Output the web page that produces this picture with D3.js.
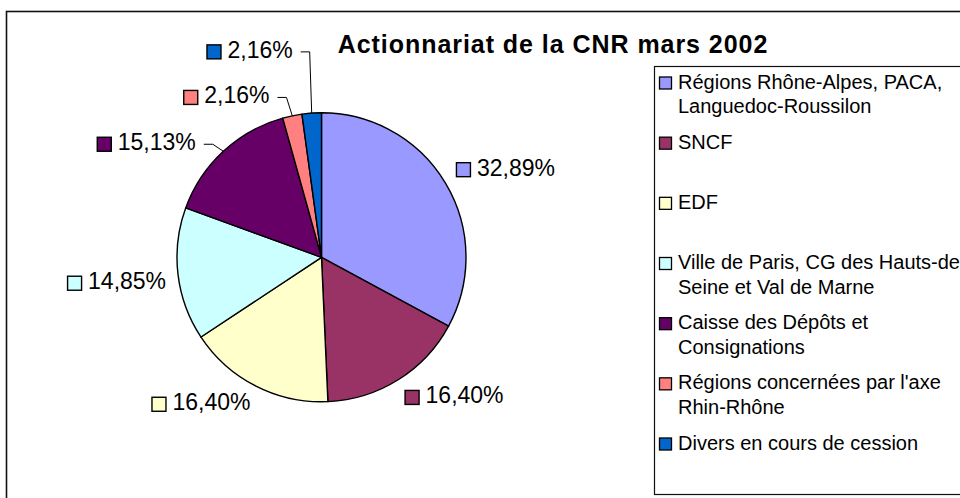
<!DOCTYPE html>
<html lang="fr">
<head>
<meta charset="UTF-8">
<title>Actionnariat de la CNR mars 2002</title>
<style>
  body { margin: 0; background: #fff; }
  svg { display: block; font-family: Arial, "Liberation Sans", sans-serif; }
</style>
</head>
<body>
<script src="https://d3js.org/d3.v7.min.js"></script>
<script>
    // Data
    const title = "Actionnariat de la CNR mars 2002";
    const categories = [
        "Régions Rhône-Alpes, PACA, Languedoc-Roussilon",
        "SNCF",
        "EDF",
        "Ville de Paris, CG des Hauts-de-Seine et Val de Marne",
        "Caisse des Dépôts et Consignations",
        "Régions concernées par l'axe Rhin-Rhône",
        "Divers en cours de cession"
    ];
    const values = [32.89, 16.40, 16.40, 14.85, 15.13, 2.16, 2.16];
    const colors = ["#9999ff", "#993366", "#ffffcc", "#ccffff", "#660066", "#ff8080", "#0066cc"];

    // Dimensions
    const width = 960;
    const height = 498;
    const cx = 321.5, cy = 257.3, radius = 144.5;

    const svg = d3.select("body")
        .append("svg")
        .attr("width", width)
        .attr("height", height);

    // chart border (runs off the right and bottom edges)
    svg.append("rect")
        .attr("x", 6.5).attr("y", 11.5)
        .attr("width", 980).attr("height", 520)
        .attr("fill", "none")
        .attr("stroke", "#111")
        .attr("stroke-width", 1.6);

    // title
    svg.append("text")
        .attr("x", 553).attr("y", 53)
        .attr("text-anchor", "middle")
        .attr("font-size", 25)
        .attr("font-weight", "bold")
        .attr("letter-spacing", 0.95)
        .text(title);

    // Pie
    const pie = d3.pie().sort(null).value(d => d);
    const arcs = pie(values);
    const arc = d3.arc().innerRadius(0).outerRadius(radius);

    const g = svg.append("g").attr("transform", `translate(${cx},${cy})`);
    g.selectAll("path.slice")
        .data(arcs)
        .enter()
        .append("path")
        .attr("class", "slice")
        .attr("d", arc)
        .attr("fill", (d, i) => colors[i])
        .attr("stroke", "#000")
        .attr("stroke-width", 1.4)
        .attr("stroke-linejoin", "round");

    // Data labels
    const fmt = v => d3.format(".2f")(v).replace(".", ",") + "%";
    const sq = 15;
    // labels the author dragged away from the pie (get a leader line)
    const moved = {4: [-19.4, 9.3], 5: [-20.4, 0.9], 6: [-18.2, -41.8]};

    arcs.forEach((d, i) => {
        const a = (d.startAngle + d.endAngle) / 2;
        const ux = Math.sin(a), uy = -Math.cos(a);
        let ax = cx + (radius + 12) * ux;
        let ay = cy + (radius + 12) * uy;
        if (moved[i]) { ax += moved[i][0]; ay += moved[i][1]; }

        const lab = svg.append("g");
        const txt = lab.append("text")
            .attr("font-size", 23)
            .text(fmt(values[i]));
        const tw = txt.node().getComputedTextLength();
        const w = sq + 6 + tw;
        const left = ux >= 0 ? ax : ax - w;
        const top = uy >= 0 ? ay : ay - sq;

        lab.append("rect")
            .attr("x", left + 0.5).attr("y", top + 0.5)
            .attr("width", sq - 1).attr("height", sq - 1)
            .attr("fill", colors[i])
            .attr("stroke", "#000")
            .attr("stroke-width", 1.4);
        txt.attr("x", left + sq + 6).attr("y", top + sq - 1.5);

        if (moved[i]) {
            const ex = cx + radius * ux, ey = cy + radius * uy;
            const sx = left + w + 8, sy = top + sq / 2;
            svg.append("path")
                .attr("d", `M${sx},${sy}H${sx + 9}L${ex},${ey}`)
                .attr("fill", "none")
                .attr("stroke", "#000")
                .attr("stroke-width", 1);
        }
    });

    // Legend
    const legX = 654.5, legY = 66.5;
    svg.append("rect")
        .attr("x", legX).attr("y", legY)
        .attr("width", 400).attr("height", 494.5 - legY)
        .attr("fill", "#fff")
        .attr("stroke", "#111")
        .attr("stroke-width", 1.2);

    const rowY = d3.scaleLinear().domain([0, categories.length - 1]).range([88.5, 449.5]);
    const maxW = 300;

    // greedy wrap at spaces and after hyphens
    function wrap(str, textEl) {
        const tokens = str.match(/[^ -]+-?|\s/g).filter(t => t !== " ");
        const lines = [];
        let cur = "";
        tokens.forEach(t => {
            const joiner = (cur === "" || cur.endsWith("-")) ? "" : " ";
            const trial = cur + joiner + t;
            textEl.text(trial);
            if (cur !== "" && textEl.node().getComputedTextLength() > maxW) {
                lines.push(cur);
                cur = t;
            } else {
                cur = trial;
            }
        });
        lines.push(cur);
        return lines;
    }

    categories.forEach((c, i) => {
        const y = rowY(i);
        svg.append("rect")
            .attr("x", 659.5).attr("y", y + 1.5 - 13)
            .attr("width", 12).attr("height", 12)
            .attr("fill", colors[i])
            .attr("stroke", "#000")
            .attr("stroke-width", 1.3);
        const t = svg.append("text")
            .attr("x", 678).attr("y", y)
            .attr("font-size", 20);
        const lines = wrap(c, t);
        t.text(null);
        lines.forEach((ln, k) => {
            t.append("tspan")
                .attr("x", 678)
                .attr("y", y + k * 24.5)
                .text(ln);
        });
    });
</script>
</body>
</html>
